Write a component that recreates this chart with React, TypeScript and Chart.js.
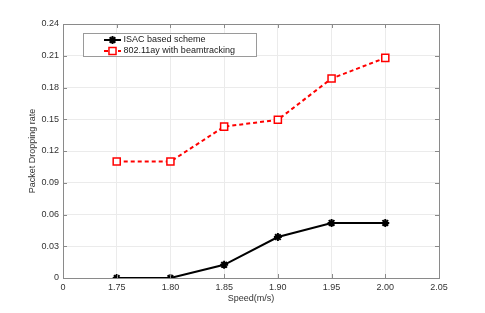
import React, { useEffect, useRef } from "react";
import { Chart, registerables } from "chart.js";
import { drawPoint } from "chart.js/helpers";

Chart.register(...registerables);

const tickLabels = ["0", "1.75", "1.80", "1.85", "1.90", "1.95", "2.00", "2.05"];
const speeds = ["1.75", "1.80", "1.85", "1.90", "1.95", "2.00"];
const isacValues = [0, 0, 0.0125, 0.0387, 0.052, 0.052];
const ayValues = [0.110, 0.110, 0.143, 0.1495, 0.1885, 0.208];
const seriesNames = ["ISAC based scheme", "802.11ay with beamtracking"];
const xTitle = "Speed(m/s)";
const yTitle = "Packet Dropping rate";
const yMax = 0.24;
const yStep = 0.03;

const FONT = "'Liberation Sans', Arial, Helvetica, sans-serif";

const framePlugin = {
  id: "matlabFrame",
  afterDatasetsDraw(chart: any) {
    const { ctx, chartArea } = chart;
    const { left, right, top, bottom } = chartArea;
    const xs = chart.scales.x;
    const ys = chart.scales.y;
    ctx.save();
    ctx.strokeStyle = "#8a8a8a";
    ctx.lineWidth = 1;
    ctx.strokeRect(Math.round(left) + 0.5, Math.round(top) + 0.5, Math.round(right - left), Math.round(bottom - top));
    const tl = 4;
    ctx.beginPath();
    xs.ticks.forEach((t: any) => {
      const px = Math.round(xs.getPixelForValue(t.value)) + 0.5;
      ctx.moveTo(px, bottom);
      ctx.lineTo(px, bottom - tl);
      ctx.moveTo(px, top);
      ctx.lineTo(px, top + tl);
    });
    ys.ticks.forEach((t: any) => {
      const py = Math.round(ys.getPixelForValue(t.value)) + 0.5;
      ctx.moveTo(left, py);
      ctx.lineTo(left + tl, py);
      ctx.moveTo(right, py);
      ctx.lineTo(right - tl, py);
    });
    ctx.stroke();

    ctx.fillStyle = "#333";
    ctx.font = `9px ${FONT}`;
    ctx.textAlign = "center";
    ctx.textBaseline = "middle";
    ctx.fillText(xTitle, (left + right) / 2, 299);
    ctx.save();
    ctx.translate(33, (top + bottom) / 2);
    ctx.rotate(-Math.PI / 2);
    ctx.fillText(yTitle, 0, 0);
    ctx.restore();

    const bx = 83.5, by = 33.5, bw = 173, bh = 23;
    ctx.fillStyle = "#fff";
    ctx.fillRect(bx, by, bw, bh);
    ctx.strokeStyle = "#9a9a9a";
    ctx.lineWidth = 1;
    ctx.strokeRect(bx, by, bw, bh);
    const rows = [40, 51];
    chart.data.datasets.forEach((ds: any, i: number) => {
      const y = rows[i];
      ctx.save();
      ctx.strokeStyle = ds.borderColor;
      ctx.fillStyle = ds.pointBackgroundColor;
      ctx.lineWidth = ds.borderWidth;
      ctx.setLineDash(ds.borderDash || []);
      ctx.beginPath();
      ctx.moveTo(104, y);
      ctx.lineTo(121, y);
      ctx.stroke();
      ctx.setLineDash([]);
      ctx.lineWidth = ds.pointBorderWidth;
      drawPoint(
        ctx,
        {
          pointStyle: ds.pointStyle,
          radius: ds.pointRadius,
          borderWidth: ds.pointBorderWidth,
          rotation: 0,
        } as any,
        112.5,
        y
      );
      ctx.restore();
      ctx.save();
      ctx.fillStyle = "#1a1a1a";
      ctx.font = `9px ${FONT}`;
      ctx.textAlign = "left";
      ctx.textBaseline = "middle";
      ctx.fillText(ds.label, 123.5, y);
      ctx.restore();
    });
    ctx.restore();
  },
};

export default function App() {
  const ref = useRef<HTMLCanvasElement | null>(null);
  useEffect(() => {
    if (!ref.current) return;
    const toPts = (vals: number[]) =>
      speeds.map((s, i) => ({ x: tickLabels.indexOf(s), y: vals[i] }));
    const chart = new Chart(ref.current, {
      type: "line",
      data: {
        datasets: [
          {
            label: seriesNames[0],
            data: toPts(isacValues),
            borderColor: "#000",
            backgroundColor: "#000",
            borderWidth: 2,
            pointStyle: "star",
            pointRadius: 4,
            pointBorderWidth: 2,
            pointBorderColor: "#000",
            pointBackgroundColor: "#000",
            tension: 0,
          },
          {
            label: seriesNames[1],
            data: toPts(ayValues),
            borderColor: "#ff0000",
            backgroundColor: "#ffffff",
            borderWidth: 2,
            borderDash: [4, 3],
            pointStyle: "rect",
            pointRadius: 5,
            pointBorderWidth: 1.5,
            pointBorderColor: "#ff0000",
            pointBackgroundColor: "#ffffff",
            tension: 0,
          },
        ],
      },
      options: {
        responsive: false,
        animation: false,
        layout: { padding: { top: 24, right: 46, left: 0, bottom: 0 } },
        plugins: {
          legend: { display: false },
          tooltip: { enabled: false },
          title: { display: false },
        },
        scales: {
          x: {
            type: "linear",
            min: 0,
            max: tickLabels.length - 1,
            border: { display: false },
            grid: { color: "#ebebeb", lineWidth: 1, drawTicks: false },
            ticks: {
              stepSize: 1,
              autoSkip: false,
              maxRotation: 0,
              padding: 4,
              color: "#333",
              font: { family: FONT, size: 9 },
              callback: (v: any) => tickLabels[Math.round(Number(v))] ?? "",
            },
            afterFit: (s: any) => {
              s.height = 35;
            },
          },
          y: {
            type: "linear",
            min: 0,
            max: yMax,
            border: { display: false },
            grid: { color: "#ebebeb", lineWidth: 1, drawTicks: false },
            ticks: {
              stepSize: yStep,
              padding: 4,
              color: "#333",
              font: { family: FONT, size: 9 },
              callback: (v: any) => (Number(v) === 0 ? "0" : Number(v).toFixed(2)),
            },
            afterFit: (s: any) => {
              s.width = 63;
            },
          },
        },
      },
      plugins: [framePlugin],
    });
    return () => chart.destroy();
  }, []);
  return (
    <div style={{ position: "absolute", left: 0, top: 0, width: 485, height: 313, background: "#fff" }}>
      <canvas ref={ref} width={485} height={313} style={{ width: 485, height: 313 }} />
    </div>
  );
}
